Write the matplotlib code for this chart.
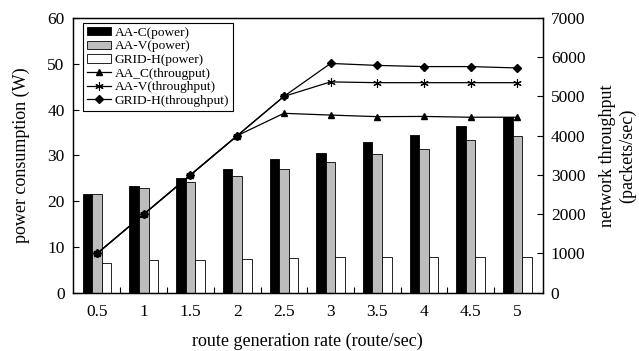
import matplotlib
matplotlib.use("Agg")
import matplotlib.pyplot as plt
import numpy as np
from matplotlib.patches import Patch
from matplotlib.lines import Line2D

# route generation rate (route/sec)
rates = ["0.5", "1", "1.5", "2", "2.5", "3", "3.5", "4", "4.5", "5"]

# power consumption (W)
aa_c_power = [21.5, 23.4, 25.1, 27.0, 29.1, 30.6, 32.8, 34.4, 36.5, 38.3]
aa_v_power = [21.5, 22.9, 24.1, 25.5, 27.0, 28.5, 30.3, 31.4, 33.3, 34.2]
grid_h_power = [6.6, 7.1, 7.1, 7.3, 7.5, 7.7, 7.7, 7.8, 7.9, 7.9]

# network throughput (packets/sec)
aa_c_thr = [1000, 2000, 3000, 4000, 4570, 4525, 4485, 4490, 4470, 4470]
aa_v_thr = [1000, 2000, 3000, 4000, 5000, 5370, 5350, 5350, 5350, 5350]
grid_h_thr = [1000, 2000, 3000, 4000, 5000, 5840, 5790, 5760, 5760, 5725]

plt.rcParams['font.family'] = ['Liberation Serif', 'DejaVu Serif']

fig = plt.figure(figsize=(6.39, 3.51), dpi=100)
ax = fig.add_axes([0.114, 0.166, 0.735, 0.783])
x = np.arange(len(rates))
w = 0.205

ax.bar(x - w, aa_c_power, w, color='black', edgecolor='black', linewidth=0.6)
ax.bar(x, aa_v_power, w, color='#bdbdbd', edgecolor='black', linewidth=0.6)
ax.bar(x + w, grid_h_power, w, color='white', edgecolor='black', linewidth=0.6)

ax.set_xlim(-0.52, 9.54)
ax.set_ylim(0, 60)
ax.set_xticks(x)
ax.set_xticklabels(rates)
ax.set_xticks(x[:-1] + 0.5, minor=True)
ax.tick_params(axis='x', which='major', length=0, pad=8, labelsize=12.5)
ax.tick_params(axis='x', which='minor', direction='in', length=4, width=0.8)
ax.tick_params(axis='y', direction='in', length=4, width=0.8, labelsize=12.5, pad=6)
ax.set_ylabel("power consumption (W)", fontsize=13, labelpad=12)
ax.set_xlabel("route generation rate (route/sec)", fontsize=13, labelpad=9)

ax2 = ax.twinx()
ax2.plot(x, aa_c_thr, color='black', lw=0.9, marker='^', ms=5)
ax2.plot(x, aa_v_thr, color='black', lw=0.9, marker=(6, 2, 0), ms=6, mew=0.8)
ax2.plot(x, grid_h_thr, color='black', lw=0.9, marker='D', ms=4)
ax2.set_ylim(0, 7000)
ax2.set_yticks(np.arange(0, 7001, 1000))
ax2.tick_params(axis='y', direction='in', length=4, width=0.8, labelsize=12.5, pad=6)
ax2.set_ylabel("network throughput\n(packets/sec)", fontsize=13, labelpad=10)

for a in (ax, ax2):
    for s in a.spines.values():
        s.set_linewidth(0.9)

handles = [
    Patch(facecolor='black', edgecolor='black', linewidth=0.6),
    Patch(facecolor='#bdbdbd', edgecolor='black', linewidth=0.6),
    Patch(facecolor='white', edgecolor='black', linewidth=0.6),
    Line2D([], [], color='black', lw=0.9, marker='^', ms=5),
    Line2D([], [], color='black', lw=0.9, marker=(6, 2, 0), ms=6, mew=0.8),
    Line2D([], [], color='black', lw=0.9, marker='D', ms=4),
]
labels = ["AA-C(power)", "AA-V(power)", "GRID-H(power)",
          "AA_C(througput)", "AA-V(throughput)", "GRID-H(throughput)"]
leg = ax2.legend(handles, labels, loc='upper left', bbox_to_anchor=(0.021, 0.982),
                 borderaxespad=0, fontsize=9.6, fancybox=False, framealpha=1,
                 edgecolor='black', labelspacing=0.12, handlelength=1.8,
                 handleheight=0.6, handletextpad=0.3, borderpad=0.3)
leg.get_frame().set_linewidth(0.8)

fig.savefig("out.png", dpi=100)
